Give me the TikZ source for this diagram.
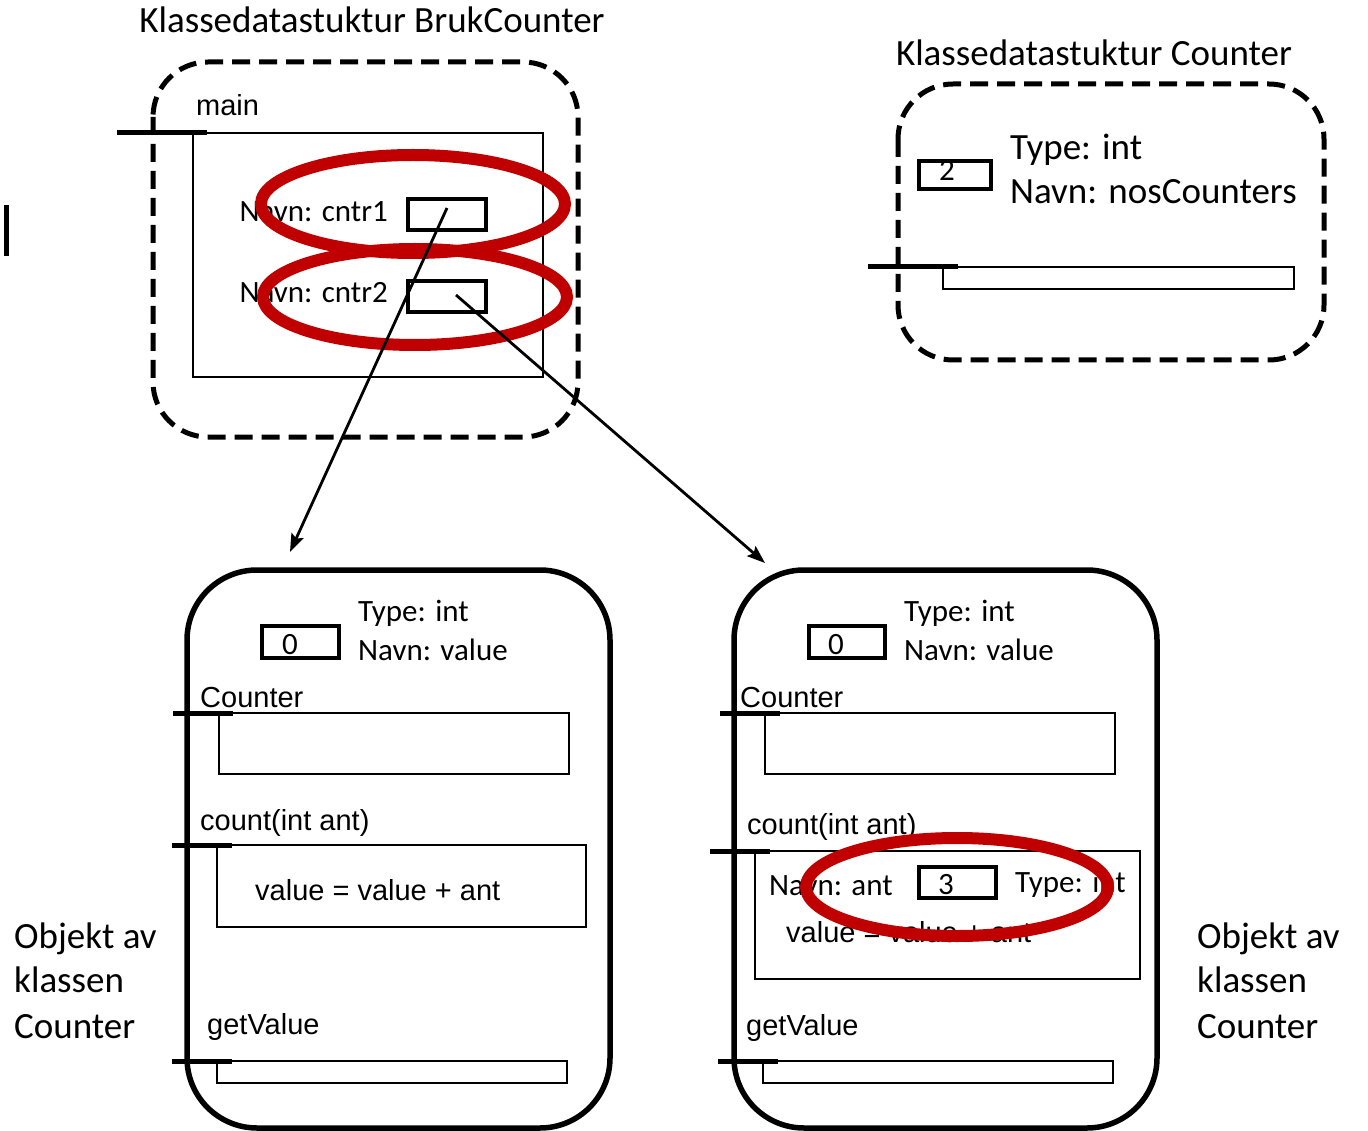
\documentclass[tikz,border=0pt]{standalone}
\usepackage{fontspec}
\setmainfont{Carlito}
\newfontfamily\arl{Liberation Sans}
\usetikzlibrary{arrows.meta}
\begin{document}
\begin{tikzpicture}[x=1pt,y=-1pt,
  dbox/.style={line width=5pt, dash pattern=on 18pt off 9pt, rounded corners=55pt},
  obox/.style={line width=5.5pt, rounded corners=70pt},
  slot/.style={line width=2.5pt},
  vbox/.style={line width=3.2pt},
  tick/.style={line width=5pt},
  ring/.style={line width=12pt, draw={rgb,255:red,192;green,0;blue,0}},
  txt/.style={inner sep=0pt, anchor=base west},
  big/.style={txt, font=\fontsize{37}{41}\selectfont},
  mid/.style={txt, font=\fontsize{31}{36}\selectfont},
  ar/.style={txt, font=\arl\fontsize{29}{34}\selectfont},
  num/.style={inner sep=0pt, anchor=base, font=\fontsize{31}{36}\selectfont},
  arr/.style={line width=2.8pt, -{Stealth[length=18pt, width=13pt, inset=3pt]}}
]
\useasboundingbox (0,0) rectangle (1368,1131);

% ---------- left bar ----------
\draw[line width=5.5pt] (6.5,205) -- (6.5,256);

% ---------- Klassedatastruktur BrukCounter ----------
\node[big, anchor=base] (t1) at (372,33) {Klassedatastuktur BrukCounter};
\draw[dbox] (153,62) rectangle (578,437);
\node[ar] (main) at (196,116) {main};
\draw[slot] (193,133) rectangle (543,377);
\draw[tick] (117,133) -- (207,133);
\node[mid, anchor=base east] (n1) at (388,222) {Navn: cntr1};
\node[mid, anchor=base east] (n2) at (388,303) {Navn: cntr2};
\draw[vbox] (408,199) rectangle (486,230);
\draw[vbox] (408,281) rectangle (486,312);
\coordinate (c1) at (447,208);
\coordinate (c2) at (456,295);

% ---------- Klassedatastruktur Counter ----------
\node[big, anchor=base] (t2) at (1094,66) {Klassedatastuktur Counter};
\draw[dbox] (898,84) rectangle (1324,360);
\draw[vbox] (919,161) rectangle (991,189);
\node[num] (v2) at (947,181) {2};
\node[big] (ty2) at (1010,160) {Type: int};
\node[big] (na2) at (1010,204) {Navn: nosCounters};
\draw[slot] (943,267) rectangle (1294,289);
\draw[tick] (868,267) -- (958,267);

% ---------- Object left ----------
\draw[obox] (187,570) rectangle (610,1128);
\draw[vbox] (262,626) rectangle (339,658);
\node[num] (v0a) at (290,654) {0};
\node[mid] (tya) at (358,621) {Type: int};
\node[mid] (naa) at (358,660) {Navn: value};
\node[ar] (cona) at (200,707) {Counter};
\draw[slot] (219,713) rectangle (569,774);
\draw[tick] (173,713) -- (233,713);
\node[ar] (cnta) at (200,830) {count(int ant)};
\draw[slot] (217,845) rectangle (586,927);
\draw[tick] (172,845) -- (232,845);
\node[ar] (vala) at (255,900) {value = value + ant};
\node[ar] (gva) at (207,1034) {getValue};
\draw[slot] (217,1061) rectangle (567,1083);
\draw[tick] (172,1061) -- (232,1061);
\coordinate (ta) at (290,552);

% ---------- Object right ----------
\draw[obox] (734,570) rectangle (1157,1128);
\draw[vbox] (809,626) rectangle (885,658);
\node[num] (v0b) at (836,654) {0};
\node[mid] (tyb) at (904,621) {Type: int};
\node[mid] (nab) at (904,660) {Navn: value};
\node[ar] (conb) at (740,707) {Counter};
\draw[slot] (765,713) rectangle (1115,774);
\draw[tick] (720,713) -- (780,713);
\node[ar] (cntb) at (747,834) {count(int ant)};
\draw[slot] (755,851) rectangle (1140,979);
\draw[tick] (710,851) -- (770,851);
\node[mid] (nantb) at (769,895) {Navn: ant};
\draw[vbox] (919,867) rectangle (996,898);
\node[num] (v3) at (946,894) {3};
\node[mid] (tyantb) at (1015,892) {Type: int};
\node[ar] (valb) at (786,942) {value = value + ant};
\node[ar] (gvb) at (746,1035) {getValue};
\draw[slot] (763,1061) rectangle (1113,1083);
\draw[tick] (718,1061) -- (778,1061);
\coordinate (tb) at (765,563);

% ---------- side labels ----------
\node[big] (oa1) at (14,948) {Objekt av};
\node[big] (oa2) at (14,992) {klassen};
\node[big] (oa3) at (14,1038) {Counter};
\node[big] (ob1) at (1197,948) {Objekt av};
\node[big] (ob2) at (1197,992) {klassen};
\node[big] (ob3) at (1197,1038) {Counter};

% ---------- red rings ----------
\draw[ring] (413,204) ellipse [x radius=152, y radius=49];
\draw[ring] (415,297) ellipse [x radius=152, y radius=48];
\draw[ring] (957,887) ellipse [x radius=151, y radius=49];

% ---------- arrows ----------
\draw[arr] (c1) -- (ta);
\draw[arr] (c2) -- (tb);
\end{tikzpicture}
\end{document}
